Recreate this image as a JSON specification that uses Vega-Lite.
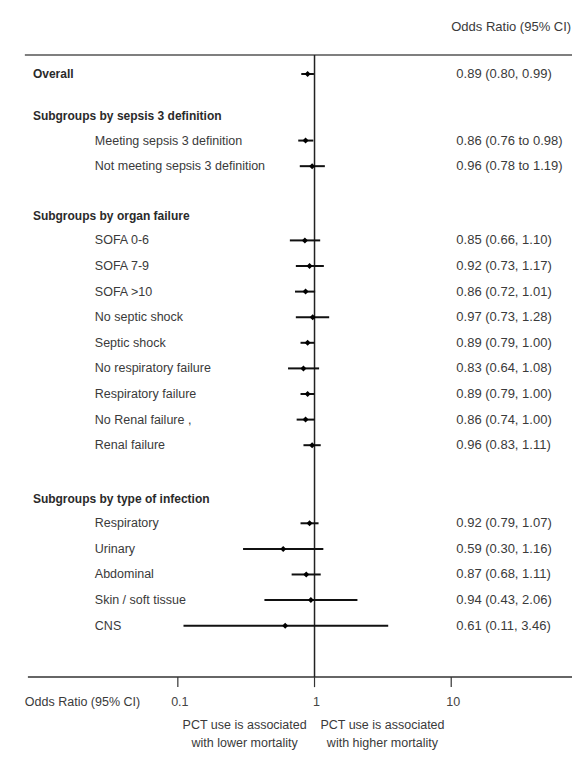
{
  "$schema": "https://vega.github.io/schema/vega-lite/v6.json",
  "width": 573,
  "height": 760,
  "autosize": {"type": "fit", "contains": "padding"},
  "padding": 0,
  "background": "white",
  "config": {"view": {"stroke": null}, "text": {"font": "Liberation Sans"}},
  "datasets": {
    "rows": [
      {"label": "Overall", "kind": "head", "r": 0, "or": 0.89, "lo": 0.80, "hi": 0.99, "ci": "0.89 (0.80, 0.99)"},
      {"label": "Subgroups by sepsis 3 definition", "kind": "head", "r": 1.65},
      {"label": "Meeting sepsis 3  definition", "kind": "item", "r": 2.6, "or": 0.86, "lo": 0.76, "hi": 0.98, "ci": "0.86 (0.76 to 0.98)"},
      {"label": "Not meeting sepsis 3 definition", "kind": "item", "r": 3.6, "or": 0.96, "lo": 0.78, "hi": 1.19, "ci": "0.96 (0.78 to 1.19)"},
      {"label": "Subgroups by organ failure", "kind": "head", "r": 5.55},
      {"label": "SOFA 0-6", "kind": "item", "r": 6.5, "or": 0.85, "lo": 0.66, "hi": 1.10, "ci": "0.85 (0.66, 1.10)"},
      {"label": "SOFA 7-9", "kind": "item", "r": 7.5, "or": 0.92, "lo": 0.73, "hi": 1.17, "ci": "0.92 (0.73, 1.17)"},
      {"label": "SOFA >10", "kind": "item", "r": 8.5, "or": 0.86, "lo": 0.72, "hi": 1.01, "ci": "0.86 (0.72, 1.01)"},
      {"label": "No septic shock", "kind": "item", "r": 9.5, "or": 0.97, "lo": 0.73, "hi": 1.28, "ci": "0.97 (0.73, 1.28)"},
      {"label": "Septic shock", "kind": "item", "r": 10.5, "or": 0.89, "lo": 0.79, "hi": 1.00, "ci": "0.89 (0.79, 1.00)"},
      {"label": "No respiratory failure", "kind": "item", "r": 11.5, "or": 0.83, "lo": 0.64, "hi": 1.08, "ci": "0.83 (0.64, 1.08)"},
      {"label": "Respiratory failure", "kind": "item", "r": 12.5, "or": 0.89, "lo": 0.79, "hi": 1.00, "ci": "0.89 (0.79, 1.00)"},
      {"label": "No Renal failure  ,", "kind": "item", "r": 13.5, "or": 0.86, "lo": 0.74, "hi": 1.00, "ci": "0.86 (0.74, 1.00)"},
      {"label": "Renal failure", "kind": "item", "r": 14.5, "or": 0.96, "lo": 0.83, "hi": 1.11, "ci": "0.96 (0.83, 1.11)"},
      {"label": "Subgroups by type of infection", "kind": "head", "r": 16.6},
      {"label": "Respiratory", "kind": "item", "r": 17.55, "or": 0.92, "lo": 0.79, "hi": 1.07, "ci": "0.92 (0.79, 1.07)"},
      {"label": "Urinary", "kind": "item", "r": 18.55, "or": 0.59, "lo": 0.30, "hi": 1.16, "ci": "0.59 (0.30, 1.16)"},
      {"label": "Abdominal", "kind": "item", "r": 19.55, "or": 0.87, "lo": 0.68, "hi": 1.11, "ci": "0.87 (0.68, 1.11)"},
      {"label": "Skin / soft tissue", "kind": "item", "r": 20.55, "or": 0.94, "lo": 0.43, "hi": 2.06, "ci": "0.94 (0.43, 2.06)"},
      {"label": "CNS", "kind": "item", "r": 21.55, "or": 0.61, "lo": 0.11, "hi": 3.46, "ci": "0.61 (0.11, 3.46)"}
    ],
    "ticks": [{"t": 0.1, "lab": "0.1"}, {"t": 1, "lab": "1"}, {"t": 10, "lab": "10"}],
    "one": [{}]
  },
  "encoding": {
    "x": {"type": "quantitative", "scale": {"type": "log", "domain": [0.005, 76.5], "nice": false, "zero": false}, "axis": null},
    "y": {"type": "quantitative", "scale": {"domain": [-2.891, 26.797], "reverse": true, "nice": false, "zero": false}, "axis": null}
  },
  "layer": [
    {
      "data": {"name": "one"},
      "mark": {"type": "rule", "color": "#555", "strokeWidth": 1.5},
      "encoding": {"x": {"datum": 0.0076, "type": "quantitative"}, "x2": {"datum": 76.5}, "y": {"datum": -0.742, "type": "quantitative"}}
    },
    {
      "data": {"name": "one"},
      "mark": {"type": "rule", "color": "#333", "strokeWidth": 1.5},
      "encoding": {"x": {"datum": 0.0080, "type": "quantitative"}, "x2": {"datum": 76.5}, "y": {"datum": 23.55, "type": "quantitative"}}
    },
    {
      "data": {"name": "one"},
      "mark": {"type": "rule", "color": "#222", "strokeWidth": 1.5},
      "encoding": {"x": {"datum": 1, "type": "quantitative"}, "y": {"datum": -0.742, "type": "quantitative"}, "y2": {"datum": 23.55}}
    },
    {
      "data": {"name": "ticks"},
      "mark": {"type": "rule", "color": "#333", "strokeWidth": 1.2},
      "encoding": {"x": {"field": "t", "type": "quantitative"}, "y": {"datum": 23.55, "type": "quantitative"}, "y2": {"datum": 23.95}}
    },
    {
      "data": {"name": "ticks"},
      "mark": {"type": "text", "fontSize": 12.5, "color": "#444", "align": "center", "baseline": "middle", "dx": 2},
      "encoding": {"x": {"field": "t", "type": "quantitative"}, "y": {"datum": 24.53, "type": "quantitative"}, "text": {"field": "lab"}}
    },
    {
      "data": {"name": "rows"},
      "transform": [{"filter": "isValid(datum.or)"}],
      "mark": {"type": "rule", "color": "#111", "strokeWidth": 2},
      "encoding": {"x": {"field": "lo", "type": "quantitative"}, "x2": {"field": "hi"}, "y": {"field": "r", "type": "quantitative"}}
    },
    {
      "data": {"name": "rows"},
      "transform": [{"filter": "isValid(datum.or)"}],
      "mark": {"type": "point", "shape": "diamond", "filled": true, "color": "#000", "size": 36, "opacity": 1},
      "encoding": {"x": {"field": "or", "type": "quantitative"}, "y": {"field": "r", "type": "quantitative"}}
    },
    {
      "data": {"name": "rows"},
      "transform": [{"filter": "datum.kind == 'head'"}],
      "mark": {"type": "text", "fontSize": 12, "fontWeight": "bold", "color": "#2a2a2a", "align": "left", "baseline": "middle"},
      "encoding": {"x": {"datum": 0.0087, "type": "quantitative"}, "y": {"field": "r", "type": "quantitative"}, "text": {"field": "label"}}
    },
    {
      "data": {"name": "rows"},
      "transform": [{"filter": "datum.kind == 'item'"}],
      "mark": {"type": "text", "fontSize": 12.5, "color": "#3a3a3a", "align": "left", "baseline": "middle"},
      "encoding": {"x": {"datum": 0.0247, "type": "quantitative"}, "y": {"field": "r", "type": "quantitative"}, "text": {"field": "label"}}
    },
    {
      "data": {"name": "rows"},
      "transform": [{"filter": "isValid(datum.ci)"}],
      "mark": {"type": "text", "fontSize": 13, "color": "#3a3a3a", "align": "left", "baseline": "middle"},
      "encoding": {"x": {"datum": 10.9, "type": "quantitative"}, "y": {"field": "r", "type": "quantitative"}, "text": {"field": "ci"}}
    },
    {
      "data": {"name": "one"},
      "mark": {"type": "text", "text": "Odds Ratio (95% CI)", "fontSize": 13, "color": "#3a3a3a", "align": "left", "baseline": "middle"},
      "encoding": {"x": {"datum": 10.0, "type": "quantitative"}, "y": {"datum": -1.836, "type": "quantitative"}}
    },
    {
      "data": {"name": "one"},
      "mark": {"type": "text", "text": "Odds Ratio (95% CI)", "fontSize": 12.5, "color": "#3a3a3a", "align": "left", "baseline": "middle"},
      "encoding": {"x": {"datum": 0.0076, "type": "quantitative"}, "y": {"datum": 24.53, "type": "quantitative"}}
    },
    {
      "data": {"name": "one"},
      "mark": {"type": "text", "text": ["PCT use is associated", "with lower mortality"], "lineHeight": 18, "fontSize": 12.5, "color": "#3a3a3a", "align": "center", "baseline": "middle"},
      "encoding": {"x": {"datum": 0.308, "type": "quantitative"}, "y": {"datum": 25.43, "type": "quantitative"}}
    },
    {
      "data": {"name": "one"},
      "mark": {"type": "text", "text": ["PCT use is associated", "with higher mortality"], "lineHeight": 18, "fontSize": 12.5, "color": "#3a3a3a", "align": "center", "baseline": "middle"},
      "encoding": {"x": {"datum": 3.14, "type": "quantitative"}, "y": {"datum": 25.43, "type": "quantitative"}}
    }
  ]
}
